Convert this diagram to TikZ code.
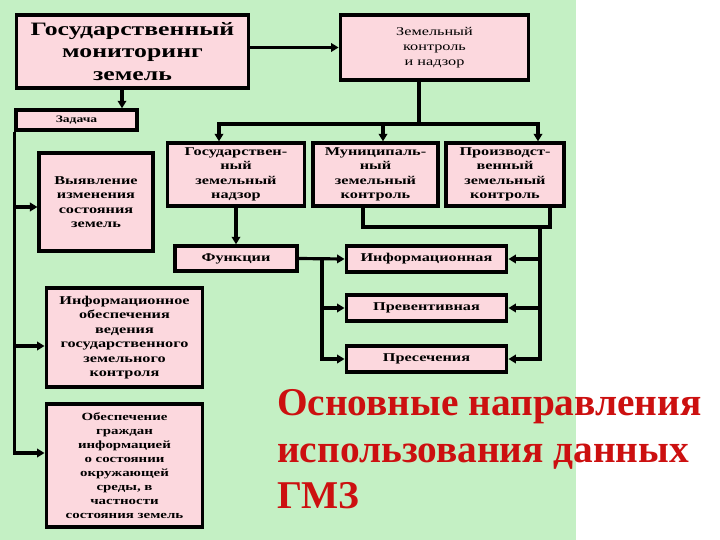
\documentclass[tikz,border=0pt]{standalone}
\usepackage{fontspec}
\setmainfont{Liberation Serif}
\newfontfamily\boxfont{Liberation Serif}[FakeStretch=1.36]
\usetikzlibrary{arrows.meta}
\definecolor{bgGreen}{RGB}{196,240,196}
\definecolor{boxPink}{RGB}{252,216,222}
\definecolor{titleRed}{RGB}{204,16,16}

\tikzset{
  box/.style={draw, line width=3.5pt, fill=boxPink, align=center, inner sep=1pt,
    font=\boxfont\bfseries\fontsize{12}{14.5}\selectfont},
  line/.style={line width=3.2pt},
  arr/.style={line width=3.2pt, -{Triangle[length=7.5pt,width=8.5pt]}},
}

\begin{document}
\begin{tikzpicture}[x=1bp, y=-1bp]
        \useasboundingbox (0,0) rectangle (720,540);
        \fill[white] (0,0) rectangle (720,540);
        \fill[bgGreen] (0,0) rectangle (576,540);

        % top row
        \node[box, minimum width=233, minimum height=73,
          font=\boxfont\bfseries\fontsize{19}{22.5}\selectfont] (gmz) at (132.5,51.5)
          {Государственный\\мониторинг\\земель};
        \node[box, minimum width=189, minimum height=65,
          font=\boxfont\fontsize{12}{15}\selectfont] (zk) at (434.5,47.5)
          {Земельный\\контроль\\и надзор};
        \node[box, minimum width=121, minimum height=20,
          font=\boxfont\bfseries\fontsize{10}{12}\selectfont] (zadacha) at (76.5,120) {Задача};

        % kinds of control
        \node[box, minimum width=138, minimum height=63] (gzn) at (236,174.5)
          {Государствен-\\ный\\земельный\\надзор};
        \node[box, minimum width=125, minimum height=63] (mzk) at (375.5,174.5)
          {Муниципаль-\\ный\\земельный\\контроль};
        \node[box, minimum width=118, minimum height=63] (pzk) at (505,174.5)
          {Производст-\\венный\\земельный\\контроль};

        % tasks
        \node[box, minimum width=114, minimum height=98] (vyyav) at (96,202)
          {Выявление\\изменения\\состояния\\земель};
        \node[box, minimum width=157, minimum height=99] (infobesp) at (124.5,337.5)
          {Информационное\\обеспечения\\ведения\\государственного\\земельного\\контроля};
        \node[box, minimum width=157, minimum height=123,
          font=\boxfont\bfseries\fontsize{11}{14}\selectfont] (obesp) at (124.5,465.5)
          {Обеспечение\\граждан\\информацией\\о состоянии\\окружающей\\среды,  в\\частности\\состояния земель};

        % functions
        \node[box, minimum width=122, minimum height=25] (funk) at (236,258.5) {Функции};
        \node[box, minimum width=161, minimum height=26] (inf) at (426.5,259) {Информационная};
        \node[box, minimum width=161, minimum height=26] (prev) at (426.5,308) {Превентивная};
        \node[box, minimum width=161, minimum height=26] (pres) at (426.5,359) {Пресечения};

        % connectors
        \draw[arr] (gmz.south -| 122,0) -- (zadacha.north -| 122,0);
        \draw[arr] (gmz.east |- zk.west) -- (zk.west);
        \coordinate (bus) at (419,124);
        \draw[line] (zk.south -| bus) -- (bus);
        \draw[arr] (bus) -| (gzn.north -| 219,0);
        \draw[arr] (bus -| 383,0) -- (mzk.north -| 383,0);
        \draw[arr] (bus) -| (pzk.north -| 538,0);

        \draw[arr] (zadacha.south west) |- (obesp.west |- 0,453);
        \draw[arr] (zadacha.south west |- 0,207) -- (vyyav.west |- 0,207);
        \draw[arr] (zadacha.south west |- 0,346) -- (infobesp.west |- 0,346);

        \draw[arr] (gzn.south) -- (funk.north);
        \draw[arr] (funk.east) -- (inf.west);
        \coordinate (fork) at (322,259);
        \draw[arr] (fork) |- (pres.west);
        \draw[arr] (fork |- prev.west) -- (prev.west);

        \coordinate (drop) at (540,227);
        \draw[line] (mzk.south -| 363,0) |- (drop) -| (pzk.south -| 550,0);
        \draw[arr] (drop) |- (pres.east);
        \draw[arr] (drop |- inf.east) -- (inf.east);
        \draw[arr] (drop |- prev.east) -- (prev.east);

        % title
        \node[anchor=north west, inner sep=0, align=left, text=titleRed,
          font=\bfseries\fontsize{39.5}{47}\selectfont] (title) at (277,389)
          {Основные направления\\использования данных\\ГМЗ};
      \end{tikzpicture}
\end{document}
